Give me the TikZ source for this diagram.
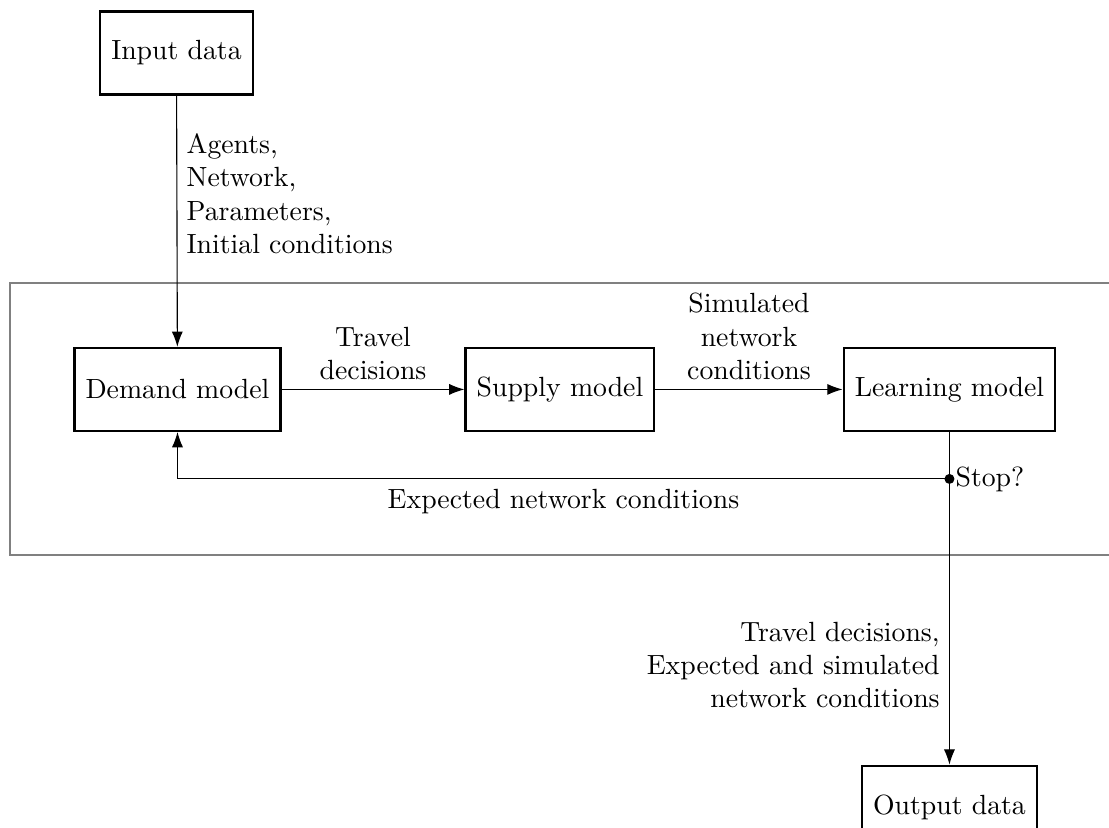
\documentclass[tikz,border=0pt]{standalone}
\usetikzlibrary{arrows.meta}
\begin{document}
\begin{tikzpicture}[blok/.style={draw,thick,inner xsep=4pt,minimum height=1.05cm},
	flow/.style={-{Latex[length=5.5pt,width=4pt]}}]
		\useasboundingbox(0,0)rectangle(14.04,-10.47);
		\coordinate(F1)at(0.13,-3.58);
		\coordinate(F2)at(14.5,-7.03);
		\draw[gray,thick](F1)rectangle(F2);
		\node[blok](In)at(2.234,-0.671){Input data};
		\node[blok](Dem)at(2.247,-4.93){Demand model};
		\node[blok](Sup)at(7.089,-4.93){Supply model};
		\node[blok](Lrn)at(12.02,-4.93){Learning model};
		\node[blok](Out)at(12.02,-10.22){Output data};
		\coordinate(S)at(Lrn.south|-0,-6.063);
		\draw[flow](In)--(Dem) node[pos=0.39,right,align=left]{Agents,\\Network,\\Parameters,\\Initial conditions};
		\draw[flow](Dem)--(Sup) node[midway,above,align=center]{Travel\\decisions};
		\draw[flow](Sup)--(Lrn) node[midway,above,align=center]{Simulated\\network\\conditions};
		\draw[flow](S)-|(Dem) node[pos=0.25,below]{Expected network conditions};
		\draw[flow](Lrn)--(Out) node[pos=0.7,left,align=right]{Travel decisions,\\Expected and simulated\\network conditions};
		\fill(S)circle(1.8pt) node[right,inner sep=2pt]{Stop?};
		\end{tikzpicture}
\end{document}
